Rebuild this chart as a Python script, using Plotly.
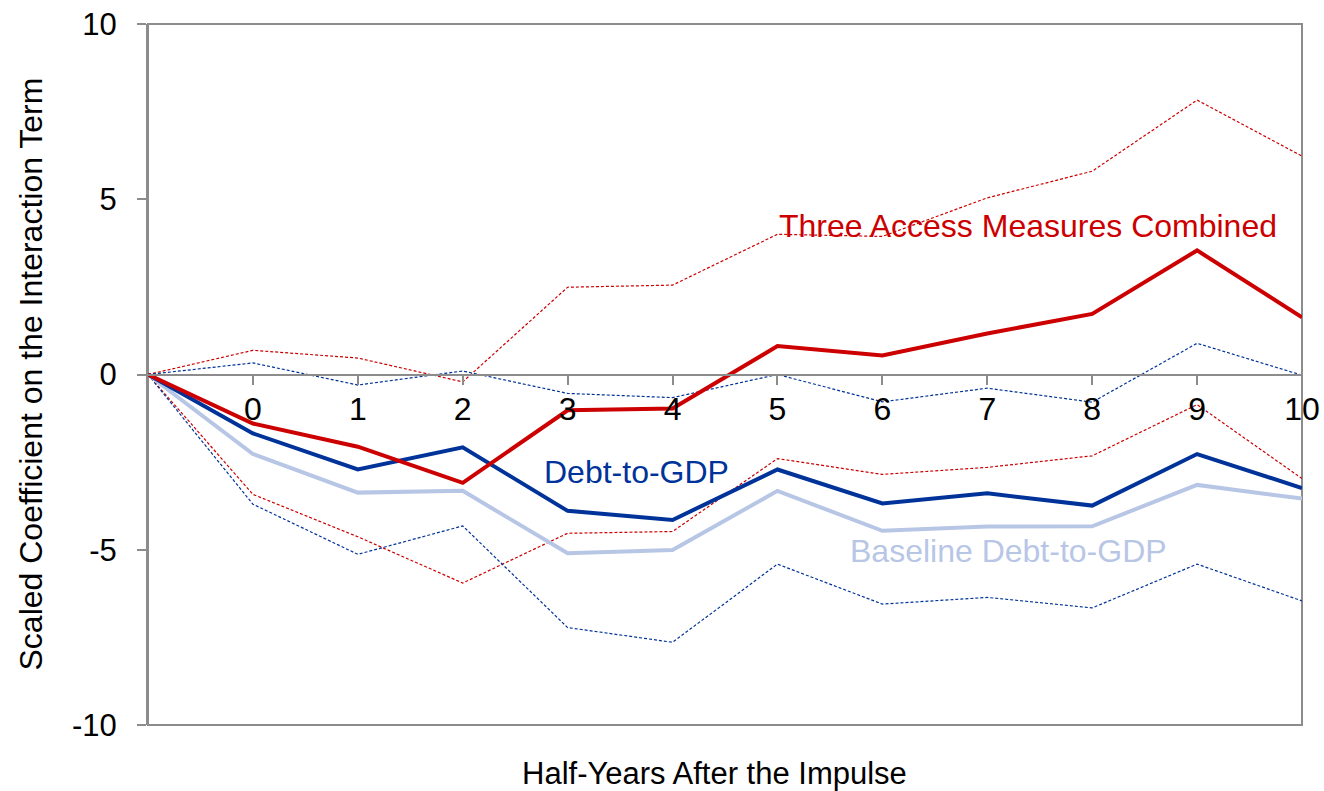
import plotly.graph_objects as go

# Horizon (half-years); -1 is the impulse point where every path starts at zero
horizon = [-1, 0, 1, 2, 3, 4, 5, 6, 7, 8, 9, 10]
tick_labels = ["0", "1", "2", "3", "4", "5", "6", "7", "8", "9", "10"]
y_ticks = [-10, -5, 0, 5, 10]
y_tick_labels = ["-10", "-5", "0", "5", "10"]

# Three access measures combined: point estimate and confidence band
combined = [0, -1.40, -2.06, -3.09, -1.02, -0.97, 0.81, 0.54, 1.17, 1.73, 3.54, 1.63]
combined_upper = [0, 0.69, 0.47, -0.21, 2.49, 2.55, 4.00, 3.94, 5.04, 5.80, 7.83, 6.23]
combined_lower = [0, -3.42, -4.63, -5.95, -4.53, -4.48, -2.40, -2.85, -2.65, -2.32, -0.86, -2.97]

# Debt-to-GDP: point estimate and confidence band
debt = [0, -1.68, -2.71, -2.08, -3.89, -4.15, -2.71, -3.68, -3.39, -3.74, -2.27, -3.24]
debt_upper = [0, 0.33, -0.30, 0.10, -0.54, -0.66, 0.00, -0.78, -0.39, -0.79, 0.89, -0.02]
debt_lower = [0, -3.70, -5.13, -4.32, -7.22, -7.64, -5.41, -6.55, -6.36, -6.66, -5.41, -6.46]

# Baseline Debt-to-GDP estimate
baseline = [0, -2.27, -3.37, -3.32, -5.10, -5.01, -3.32, -4.46, -4.34, -4.33, -3.15, -3.54]

RED = "#CC0000"
BLUE = "#003399"
LIGHT = "#B8C6E6"
AXIS = "#8C8C8C"
FONT = "Liberation Sans, Arial, sans-serif"

fig = go.Figure()

def add_line(y, color, width, dash="solid"):
    fig.add_trace(go.Scatter(
        x=horizon, y=y, mode="lines",
        line=dict(color=color, width=width, dash=dash),
        showlegend=False, hoverinfo="skip",
    ))

add_line(combined_upper, RED, 1.2, "3px,2px")
add_line(combined_lower, RED, 1.2, "3px,2px")
add_line(debt_upper, BLUE, 1.2, "3px,2px")
add_line(debt_lower, BLUE, 1.2, "3px,2px")
add_line(baseline, LIGHT, 4)
add_line(debt, BLUE, 4)
add_line(combined, RED, 4)

labels = [
    ("Three Access Measures Combined", 7.39, 4.25, RED),
    ("Debt-to-GDP", 3.66, -2.78, BLUE),
    ("Baseline Debt-to-GDP", 7.20, -5.03, LIGHT),
]
for text, x, y, color in labels:
    fig.add_annotation(x=x, y=y, text=text, showarrow=False,
                       font=dict(family=FONT, size=32, color=color),
                       xanchor="center", yanchor="middle")

# Axis titles
fig.add_annotation(xref="paper", yref="paper", x=0.491, y=0, yshift=-48,
                   text="Half-Years After the Impulse", showarrow=False,
                   font=dict(family=FONT, size=31, color="#000000"),
                   xanchor="center", yanchor="middle")
fig.add_annotation(xref="paper", yref="paper", x=0, y=0.5, xshift=-118,
                   text="Scaled Coefficient on the Interaction Term",
                   textangle=-90, showarrow=False,
                   font=dict(family=FONT, size=32, color="#000000"),
                   xanchor="center", yanchor="middle")

# Plot-area frame
fig.add_shape(type="rect", xref="x domain", yref="y domain",
              x0=0, x1=1, y0=0, y1=1,
              line=dict(color=AXIS, width=2), layer="below")

fig.update_layout(
    width=1324, height=791,
    margin=dict(l=148, r=22, t=24, b=66, autoexpand=False),
    paper_bgcolor="white", plot_bgcolor="white",
    font=dict(family=FONT, color="#000000"),
    xaxis=dict(
        range=[-1, 10], anchor="free", position=0.5,
        tickmode="array", tickvals=list(range(11)), ticktext=tick_labels,
        showgrid=False, zeroline=False, automargin=False,
        showline=True, linecolor=AXIS, linewidth=2,
        ticks="outside", ticklen=9, tickwidth=2, tickcolor=AXIS,
        ticklabelstandoff=-3, ticklabeloverflow="allow",
        tickfont=dict(family=FONT, size=32, color="#000000"),
    ),
    yaxis=dict(
        range=[-10, 10], tickmode="array",
        tickvals=y_ticks, ticktext=y_tick_labels,
        showgrid=False, zeroline=False, automargin=False,
        showline=True, linecolor=AXIS, linewidth=2,
        ticks="outside", ticklen=9, tickwidth=2, tickcolor=AXIS,
        ticklabelstandoff=14, ticklabeloverflow="allow",
        tickfont=dict(family=FONT, size=31, color="#000000"),
    ),
)

fig.write_html("out.html")
